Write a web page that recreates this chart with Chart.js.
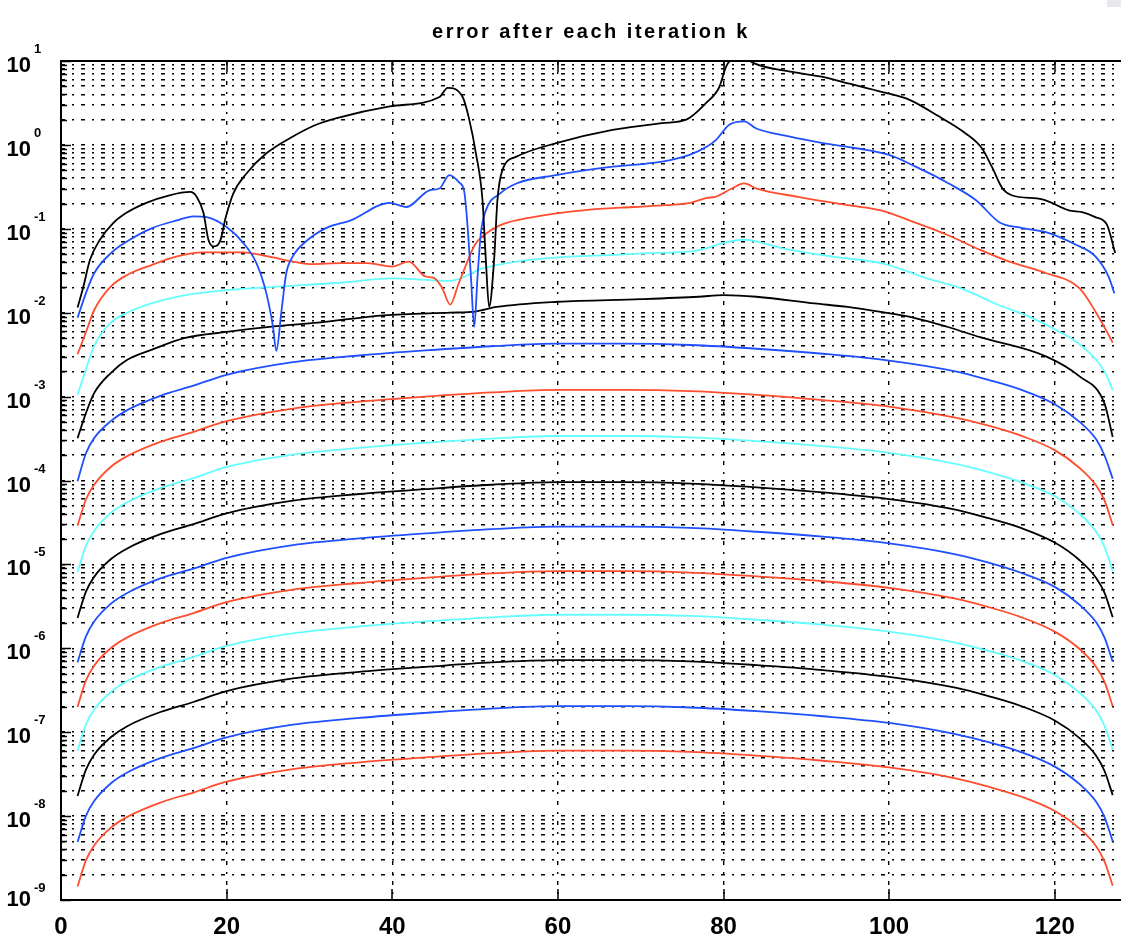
<!DOCTYPE html>
<html>
<head>
<meta charset="utf-8">
<script src="https://cdn.jsdelivr.net/npm/chart.js@4.4.1/dist/chart.umd.min.js"></script>
<style>
  html, body { margin: 0; padding: 0; background: #fff; }
</style>
</head>
<body>
<canvas id="errChart" width="1121" height="947"></canvas>
<script>
// axis ticks
const xTicks = [0, 20, 40, 60, 80, 100, 120];
const yDecades = [-9, -8, -7, -6, -5, -4, -3, -2, -1, 0, 1];

// error curves (iteration index k on x)
const x1 = [2, 2.7, 3.5, 4.7, 6.3, 7.9, 10.3, 13.1, 15.6, 16.4, 17.2, 17.8, 18.4, 19.2, 19.9, 20.8, 22.4, 24.8, 28, 30.8, 33.3, 39.7, 45.7, 46.7, 48.5, 49.3, 50.1, 50.9, 51.3, 51.7, 52.3, 52.7, 53.3, 55, 59.8, 66.6, 72.6, 75.5, 77.9, 79.5, 80.3, 81, 82.5, 83.5, 88.3, 92, 95.2, 99.2, 102.4, 106, 109.2, 111.2, 112.4, 113.7, 114.8, 118.5, 121.7, 123.3, 124.9, 126.3, 127.3];
const err1 = [1.15e-2, 2.04e-2, 4.27e-2, 7.41e-2, 0.117, 0.155, 0.204, 0.251, 0.275, 0.24, 0.155, 7.41e-2, 6.17e-2, 7.08e-2, 0.138, 0.263, 0.457, 0.794, 1.26, 1.74, 2.09, 2.88, 3.72, 4.79, 3.72, 2.0, 0.794, 0.219, 4.27e-2, 1.17e-2, 4.27e-2, 0.219, 0.501, 0.724, 1.05, 1.51, 1.82, 2.0, 3.16, 4.9, 8.51, 10.5, 11.2, 9.55, 7.41, 6.46, 5.37, 4.27, 3.47, 2.19, 1.38, 0.912, 0.55, 0.302, 0.251, 0.224, 0.166, 0.158, 0.138, 0.112, 5.13e-2];

const x2 = [2, 3, 4, 6, 8, 11, 14, 16, 17.6, 20, 22, 23.6, 24.8, 25.6, 26, 26.6, 27.2, 28, 29.6, 32, 35, 39.7, 41.7, 44.5, 45.7, 46.9, 48.1, 48.7, 49.1, 49.5, 49.9, 50.3, 50.7, 51.3, 53, 55, 59.8, 66.6, 72.6, 75.9, 78, 79.1, 80.7, 82.5, 83.9, 87.9, 92, 96, 100, 103.2, 107.2, 110.5, 113.3, 116.1, 119.3, 122.5, 124.9, 126.5, 127.2];
const err2 = [8.7e-3, 1.7e-2, 2.95e-2, 5.1e-2, 7.1e-2, 0.102, 0.126, 0.141, 0.138, 0.105, 6.8e-2, 3.9e-2, 1.7e-2, 6.8e-3, 3.5e-3, 1.0e-2, 2.95e-2, 4.7e-2, 7.1e-2, 0.102, 0.126, 0.204, 0.182, 0.288, 0.302, 0.437, 0.355, 0.275, 0.105, 2.7e-2, 6.8e-3, 2.7e-2, 8.9e-2, 0.166, 0.263, 0.347, 0.437, 0.55, 0.631, 0.759, 0.955, 1.15, 1.74, 1.91, 1.58, 1.26, 1.05, 0.912, 0.759, 0.55, 0.347, 0.219, 0.12, 0.102, 8.9e-2, 6.5e-2, 4.7e-2, 2.7e-2, 1.7e-2];

const x3 = [2, 3, 4, 6, 8, 11, 14, 17, 22, 25, 28, 30, 34, 37, 40, 42, 44, 45, 46, 47, 48, 49, 50, 51, 53, 57, 63, 69, 73, 76, 78, 79, 81, 82.5, 84, 89, 95, 99, 103, 107, 111, 114.5, 119, 123, 125, 127];
const err3 = [3.2e-3, 5.8e-3, 1.07e-2, 2.04e-2, 2.82e-2, 3.72e-2, 4.68e-2, 5.25e-2, 5.25e-2, 4.68e-2, 4.07e-2, 3.8e-2, 3.89e-2, 3.89e-2, 3.55e-2, 4.07e-2, 2.7e-2, 2.6e-2, 2.0e-2, 1.25e-2, 2.2e-2, 3.9e-2, 6.5e-2, 8.3e-2, 0.11, 0.138, 0.166, 0.182, 0.191, 0.204, 0.234, 0.24, 0.302, 0.347, 0.302, 0.24, 0.191, 0.166, 0.12, 8.5e-2, 5.6e-2, 4.07e-2, 2.95e-2, 1.95e-2, 1.0e-2, 4.4e-3];

const x4 = [2, 3, 4, 6, 8, 11, 15, 20, 26, 34, 40, 47, 51, 55, 60, 67, 71, 76, 78, 80, 82.5, 87, 93, 99, 105, 109, 113, 117, 121, 123, 126, 127];
const err4 = [1.05e-3, 2.1e-3, 4.0e-3, 7.6e-3, 1.0e-2, 1.3e-2, 1.62e-2, 1.86e-2, 2.04e-2, 2.29e-2, 2.57e-2, 2.4e-2, 3.39e-2, 4.07e-2, 4.57e-2, 4.9e-2, 5.13e-2, 5.37e-2, 5.9e-2, 6.8e-2, 7.4e-2, 5.9e-2, 4.68e-2, 3.89e-2, 2.5e-2, 1.9e-2, 1.26e-2, 8.9e-3, 5.6e-3, 4.2e-3, 2.0e-3, 1.2e-3];

const x5 = [2, 3, 4, 6, 8, 11, 15, 20, 26, 31, 39, 47, 50, 52.6, 60, 70, 77, 80, 84, 91, 95, 99, 103, 107, 111, 119, 123, 126, 127];
const err5 = [3.2e-4, 6.3e-4, 1.1e-3, 1.91e-3, 2.75e-3, 3.63e-3, 5.0e-3, 5.9e-3, 6.9e-3, 7.6e-3, 9.3e-3, 1.0e-2, 1.03e-2, 1.17e-2, 1.35e-2, 1.45e-2, 1.55e-2, 1.62e-2, 1.55e-2, 1.29e-2, 1.17e-2, 1.02e-2, 8.7e-3, 6.8e-3, 5.1e-3, 3.0e-3, 1.74e-3, 8.3e-4, 3.3e-4];

// the lower curves share one set of k values
const xs = [2, 3, 4, 6, 8, 12, 16, 20, 28, 36, 44, 52, 60, 68, 76, 84, 92, 100, 108, 112, 116, 120, 123, 125, 126, 127];
const err6 = [9.8e-5, 2.1e-4, 3.2e-4, 5.1e-4, 6.9e-4, 1.02e-3, 1.35e-3, 1.82e-3, 2.57e-3, 3.09e-3, 3.55e-3, 3.98e-3, 4.27e-3, 4.27e-3, 4.12e-3, 3.72e-3, 3.24e-3, 2.69e-3, 2.0e-3, 1.58e-3, 1.2e-3, 8.1e-4, 5.0e-4, 3.1e-4, 2.0e-4, 1.05e-4];
const err7 = [2.9e-5, 5.9e-5, 8.9e-5, 1.45e-4, 1.95e-4, 2.88e-4, 3.8e-4, 5.1e-4, 7.2e-4, 8.7e-4, 1.0e-3, 1.12e-3, 1.2e-3, 1.2e-3, 1.16e-3, 1.05e-3, 9.1e-4, 7.6e-4, 5.6e-4, 4.5e-4, 3.4e-4, 2.3e-4, 1.41e-4, 8.7e-5, 5.8e-5, 2.95e-5];
const err8 = [8.1e-6, 1.66e-5, 2.5e-5, 4.1e-5, 5.5e-5, 8.1e-5, 1.07e-4, 1.45e-4, 2.04e-4, 2.45e-4, 2.82e-4, 3.16e-4, 3.39e-4, 3.39e-4, 3.27e-4, 2.95e-4, 2.57e-4, 2.14e-4, 1.58e-4, 1.26e-4, 9.5e-5, 6.5e-5, 4.0e-5, 2.45e-5, 1.62e-5, 8.3e-6];
const err9 = [2.3e-6, 4.7e-6, 7.1e-6, 1.15e-5, 1.55e-5, 2.29e-5, 3.02e-5, 4.07e-5, 5.75e-5, 6.9e-5, 7.9e-5, 8.9e-5, 9.55e-5, 9.55e-5, 9.2e-5, 8.3e-5, 7.2e-5, 6.0e-5, 4.5e-5, 3.55e-5, 2.7e-5, 1.82e-5, 1.12e-5, 6.9e-6, 4.6e-6, 2.34e-6];
const err10 = [6.8e-7, 1.38e-6, 2.09e-6, 3.39e-6, 4.57e-6, 6.8e-6, 8.9e-6, 1.2e-5, 1.7e-5, 2.04e-5, 2.34e-5, 2.63e-5, 2.82e-5, 2.82e-5, 2.72e-5, 2.45e-5, 2.14e-5, 1.78e-5, 1.32e-5, 1.05e-5, 7.9e-6, 5.4e-6, 3.3e-6, 2.04e-6, 1.35e-6, 6.9e-7];
const err11 = [2.0e-7, 4.1e-7, 6.2e-7, 1.0e-6, 1.35e-6, 2.0e-6, 2.63e-6, 3.55e-6, 5.0e-6, 6.0e-6, 6.9e-6, 7.8e-6, 8.3e-6, 8.3e-6, 8.0e-6, 7.2e-6, 6.3e-6, 5.25e-6, 3.9e-6, 3.1e-6, 2.34e-6, 1.58e-6, 9.8e-7, 6.0e-7, 4.0e-7, 2.04e-7];
const err12 = [6.0e-8, 1.23e-7, 1.86e-7, 3.0e-7, 4.07e-7, 6.0e-7, 7.9e-7, 1.07e-6, 1.51e-6, 1.82e-6, 2.09e-6, 2.34e-6, 2.51e-6, 2.51e-6, 2.43e-6, 2.19e-6, 1.91e-6, 1.58e-6, 1.17e-6, 9.3e-7, 7.1e-7, 4.8e-7, 2.95e-7, 1.82e-7, 1.2e-7, 6.2e-8];
const err13 = [1.74e-8, 3.55e-8, 5.4e-8, 8.7e-8, 1.18e-7, 1.74e-7, 2.29e-7, 3.09e-7, 4.37e-7, 5.25e-7, 6.0e-7, 6.8e-7, 7.24e-7, 7.24e-7, 7.0e-7, 6.3e-7, 5.5e-7, 4.57e-7, 3.39e-7, 2.69e-7, 2.04e-7, 1.38e-7, 8.5e-8, 5.25e-8, 3.47e-8, 1.78e-8];
const err14 = [4.9e-9, 1.0e-8, 1.51e-8, 2.45e-8, 3.31e-8, 4.9e-8, 6.46e-8, 8.7e-8, 1.23e-7, 1.48e-7, 1.7e-7, 1.91e-7, 2.04e-7, 2.04e-7, 1.97e-7, 1.78e-7, 1.55e-7, 1.29e-7, 9.5e-8, 7.6e-8, 5.75e-8, 3.89e-8, 2.4e-8, 1.48e-8, 9.8e-9, 5.0e-9];
const err15 = [1.45e-9, 2.95e-9, 4.47e-9, 7.24e-9, 9.8e-9, 1.45e-8, 1.91e-8, 2.57e-8, 3.63e-8, 4.37e-8, 5.0e-8, 5.62e-8, 6.03e-8, 6.03e-8, 5.82e-8, 5.25e-8, 4.57e-8, 3.8e-8, 2.82e-8, 2.24e-8, 1.7e-8, 1.15e-8, 7.1e-9, 4.37e-9, 2.88e-9, 1.48e-9];

const BLACK = '#000000', BLUE = '#1f4fff', RED = '#ff4d2e', CYAN = '#66ffff';

const series = [
  [x1, err1, BLACK], [x2, err2, BLUE], [x3, err3, RED], [x4, err4, CYAN],
  [x5, err5, BLACK], [xs, err6, BLUE], [xs, err7, RED], [xs, err8, CYAN],
  [xs, err9, BLACK], [xs, err10, BLUE], [xs, err11, RED], [xs, err12, CYAN],
  [xs, err13, BLACK], [xs, err14, BLUE], [xs, err15, RED]
];

const FONT = '"Liberation Sans", Arial, Helvetica, sans-serif';
const gridDash = [4, 7, 2, 7];

// frame, inner ticks, tick labels and title drawn on top of the plot
const framePlugin = {
  id: 'frame',
  beforeDraw(chart) {
    const ctx = chart.ctx;
    ctx.save();
    ctx.fillStyle = '#fff';
    ctx.fillRect(0, 0, chart.width, chart.height);
    ctx.fillStyle = '#e6e8ee';
    ctx.fillRect(1107, 0, 14, 7);
    ctx.restore();
  },
  afterDraw(chart) {
    const { ctx, chartArea: a, scales: { x, y } } = chart;
    ctx.save();
    ctx.strokeStyle = '#000';
    ctx.lineWidth = 2;
    ctx.beginPath();
    ctx.moveTo(a.right + 5, a.top);
    ctx.lineTo(a.left, a.top);
    ctx.lineTo(a.left, a.bottom);
    ctx.lineTo(a.right + 5, a.bottom);
    ctx.stroke();

    ctx.lineWidth = 1.5;
    ctx.beginPath();
    xTicks.forEach(v => {
      const px = Math.round(x.getPixelForValue(v));
      ctx.moveTo(px, a.bottom); ctx.lineTo(px, a.bottom - 11);
      ctx.moveTo(px, a.top); ctx.lineTo(px, a.top + 11);
    });
    y.ticks.forEach(t => {
      const py = Math.round(y.getPixelForValue(t.value)) + 0.5;
      const major = Math.abs(Math.log10(t.value) - Math.round(Math.log10(t.value))) < 1e-6;
      ctx.moveTo(a.left, py); ctx.lineTo(a.left + (major ? 10 : 6), py);
    });
    ctx.stroke();

    ctx.fillStyle = '#000';
    ctx.textBaseline = 'alphabetic';
    ctx.font = 'bold 24px ' + FONT;
    ctx.textAlign = 'center';
    xTicks.forEach(v => ctx.fillText(String(v), x.getPixelForValue(v), a.bottom + 34));

    yDecades.forEach(k => {
      const py = y.getPixelForValue(Math.pow(10, k));
      ctx.font = 'bold 22px ' + FONT;
      ctx.textAlign = 'right';
      ctx.fillText('10', 31, py + (k === -9 ? 6 : 11));
      ctx.font = 'bold 13px ' + FONT;
      ctx.textAlign = 'left';
      ctx.fillText(String(k), 34, py - 8);
    });

    ctx.font = 'bold 20px ' + FONT;
    ctx.textAlign = 'center';
    if ('letterSpacing' in ctx) ctx.letterSpacing = '2.5px';
    ctx.fillText('error after each iteration k', (a.left + a.right) / 2, 38);
    ctx.restore();
  }
};

new Chart(document.getElementById('errChart'), {
  type: 'line',
  data: {
    datasets: series.map(([xv, yv, color]) => ({
      data: xv.map((k, i) => ({ x: k, y: yv[i] })),
      borderColor: color,
      borderWidth: 1.8,
      pointRadius: 0,
      fill: false,
      cubicInterpolationMode: 'monotone'
    }))
  },
  options: {
    responsive: false,
    animation: false,
    layout: { padding: { left: 61, top: 61, right: 0, bottom: 47 } },
    plugins: { legend: { display: false }, title: { display: false }, tooltip: { enabled: false } },
    scales: {
      x: {
        type: 'linear', min: 0, max: 128,
        ticks: { display: false },
        grid: { color: '#000', lineWidth: 1.4, drawTicks: false },
        border: { display: false, dash: gridDash },
        afterBuildTicks: s => { s.ticks = xTicks.map(v => ({ value: v })); }
      },
      y: {
        type: 'logarithmic', min: 1e-9, max: 10,
        ticks: { display: false },
        grid: { color: '#000', lineWidth: 1.6, drawTicks: false },
        border: { display: false, dash: gridDash },
        afterBuildTicks: s => {
          const t = [];
          yDecades.forEach(k => {
            if (k < 1) for (let m = 1; m < 10; m++) t.push({ value: m * Math.pow(10, k) });
          });
          t.push({ value: 10 });
          s.ticks = t;
        }
      }
    }
  },
  plugins: [framePlugin]
});
</script>
</body>
</html>
